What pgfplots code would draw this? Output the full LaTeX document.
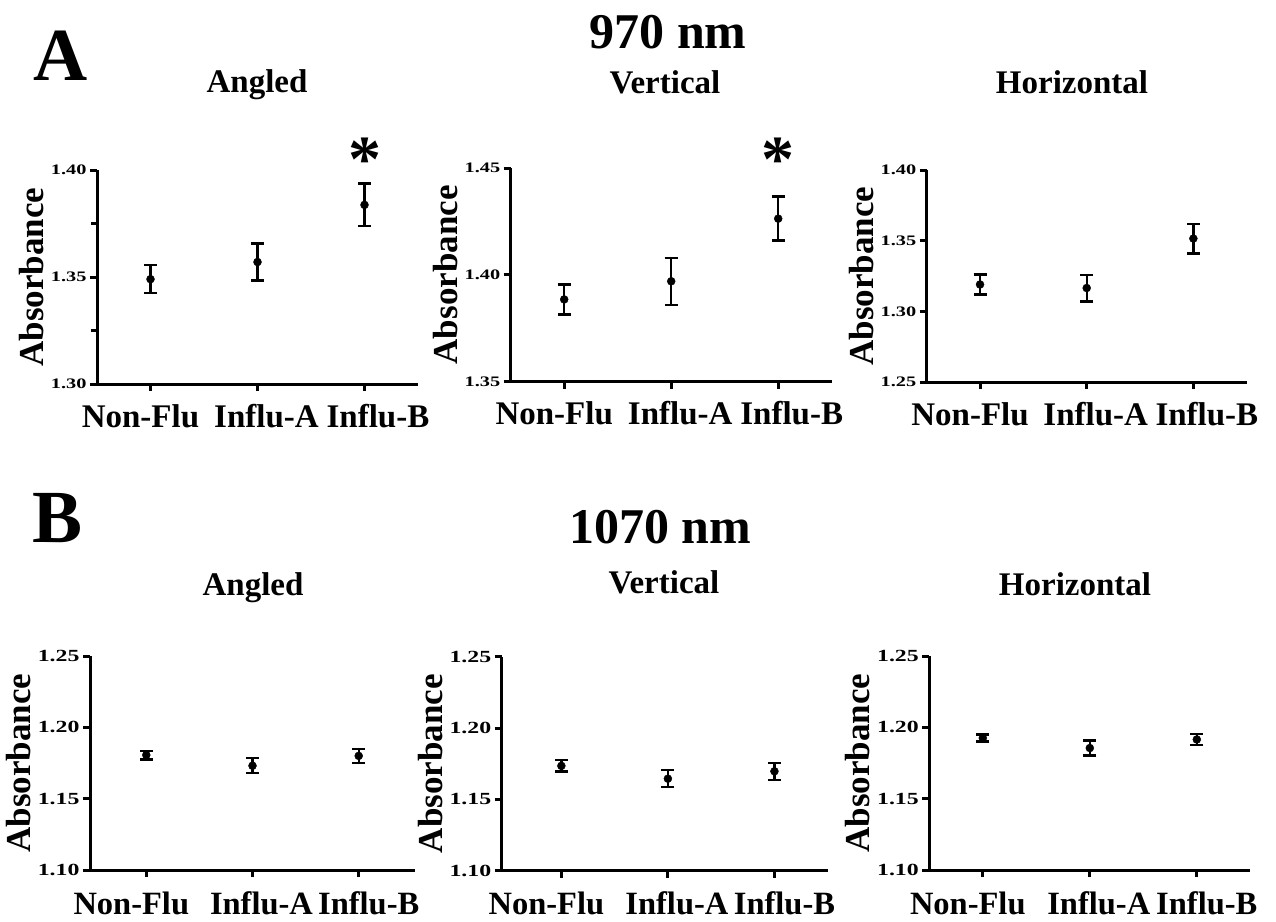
\documentclass[border=0pt]{standalone}
\usepackage{fontspec}
\setmainfont{Liberation Serif}
\usepackage{pgfplots}
\pgfplotsset{compat=1.18}

\newcommand\fs[1]{\fontsize{#1}{#1}\selectfont\bfseries}

\pgfplotsset{
  panel/.style={
    scale only axis, anchor=south west, clip=false,
    axis lines=left, axis line style={-, line width=3pt},
    every tick/.style={black, line width=3pt},
    tick align=outside, major tick length=7pt, minor tick length=6pt,
    xmin=-0.5, xmax=2.5, xtick={0,1,2},
    ylabel={Absorbance},
    ylabel style={font=\fs{35}},
    /pgf/number format/assume math mode=true,
    yticklabel={\scalebox{1.4}[1]{\pgfmathprintnumber[fixed,fixed zerofill,precision=2]{\tick}}},
  },
  rowA/.style={panel, yticklabel style={font=\fs{14.5}},
    xticklabel style={font=\fs{33}, anchor=base, yshift=-36pt},
    xticklabels={Non-Flu\hspace*{20pt}, \hspace*{18pt}Influ-A, \hspace*{27pt}Influ-B}},
  rowB/.style={panel, ymin=1.10, ymax=1.25, ytick={1.10,1.15,1.20,1.25},
    yticklabel style={font=\fs{17}},
    xticklabel style={font=\fs{32.5}, anchor=base, inner sep=0pt, yshift=-37pt},
    xticklabels={Non-Flu\hspace*{30pt}, \hspace*{18pt}Influ-A, \hspace*{20pt}Influ-B}},
  pts/.style={only marks, mark=*, mark size=4pt, black,
    error bars/.cd, y dir=both, y explicit,
    error bar style={line width=2.4pt},
    error mark options={rotate=90, mark size=6.5pt, line width=2.4pt}},
}

\begin{document}
\begin{tikzpicture}
\useasboundingbox (0pt,0pt) rectangle (1276pt,-921pt);

% ---- 970 nm ----
\begin{axis}[rowA, at={(97pt,-384pt)}, width=321pt, height=214pt,
  ymin=1.30, ymax=1.40, ytick={1.30,1.35,1.40}, minor ytick={1.325,1.375}]
\addplot[pts] coordinates {(0,1.349) +- (0,0.0065) (1,1.357) +- (0,0.0087) (2,1.3837) +- (0,0.010)};
\node[anchor=base, font=\fs{66}] at (axis cs:2,1.3944) {*};
\end{axis}

\begin{axis}[rowA, at={(510.7pt,-381.7pt)}, width=321pt, height=213.7pt,
  ymin=1.35, ymax=1.45, ytick={1.35,1.40,1.45}]
\addplot[pts] coordinates {(0,1.3885) +- (0,0.007) (1,1.397) +- (0,0.011) (2,1.4263) +- (0,0.0103)};
\node[anchor=base, font=\fs{66}] at (axis cs:2,1.4435) {*};
\end{axis}

\begin{axis}[rowA, at={(926.7pt,-382pt)}, width=320pt, height=212pt,
  ymin=1.25, ymax=1.40, ytick={1.25,1.30,1.35,1.40}]
\addplot[pts] coordinates {(0,1.319) +- (0,0.007) (1,1.3165) +- (0,0.0094) (2,1.3515) +- (0,0.0105)};
\end{axis}

% ---- 1070 nm ----
\begin{axis}[rowB, at={(90pt,-870pt)}, width=325pt, height=214pt, xmin=-0.53, xmax=2.53]
\addplot[pts] coordinates {(0,1.1806) +- (0,0.003) (1,1.1731) +- (0,0.0053) (2,1.1800) +- (0,0.005)};
\end{axis}

\begin{axis}[rowB, at={(501.7pt,-870.7pt)}, width=326pt, height=214pt, xmin=-0.56, xmax=2.5]
\addplot[pts] coordinates {(0,1.1735) +- (0,0.004) (1,1.1645) +- (0,0.006) (2,1.1697) +- (0,0.006)};
\end{axis}

\begin{axis}[rowB, at={(929.3pt,-870pt)}, width=321pt, height=214pt]
\addplot[pts] coordinates {(0,1.1925) +- (0,0.0025) (1,1.1855) +- (0,0.0053) (2,1.1915) +- (0,0.004)};
\end{axis}

% ---- headings ----
\node[anchor=base, font=\fs{75}] at (61pt,-80pt) {A};
\node[anchor=base, font=\fs{50}] at (668pt,-48pt) {970 nm};
\node[anchor=base, font=\fs{33}] at (257pt,-92pt) {Angled};
\node[anchor=base, font=\fs{33}] at (665pt,-93pt) {Vertical};
\node[anchor=base, font=\fs{33}] at (1072pt,-93pt) {Horizontal};

\node[anchor=base, font=\fs{75}] at (58pt,-542pt) {B};
\node[anchor=base, font=\fs{50}] at (660pt,-543pt) {1070 nm};
\node[anchor=base, font=\fs{33}] at (253pt,-595pt) {Angled};
\node[anchor=base, font=\fs{33}] at (664pt,-593pt) {Vertical};
\node[anchor=base, font=\fs{33}] at (1075pt,-595pt) {Horizontal};
\end{tikzpicture}
\end{document}
